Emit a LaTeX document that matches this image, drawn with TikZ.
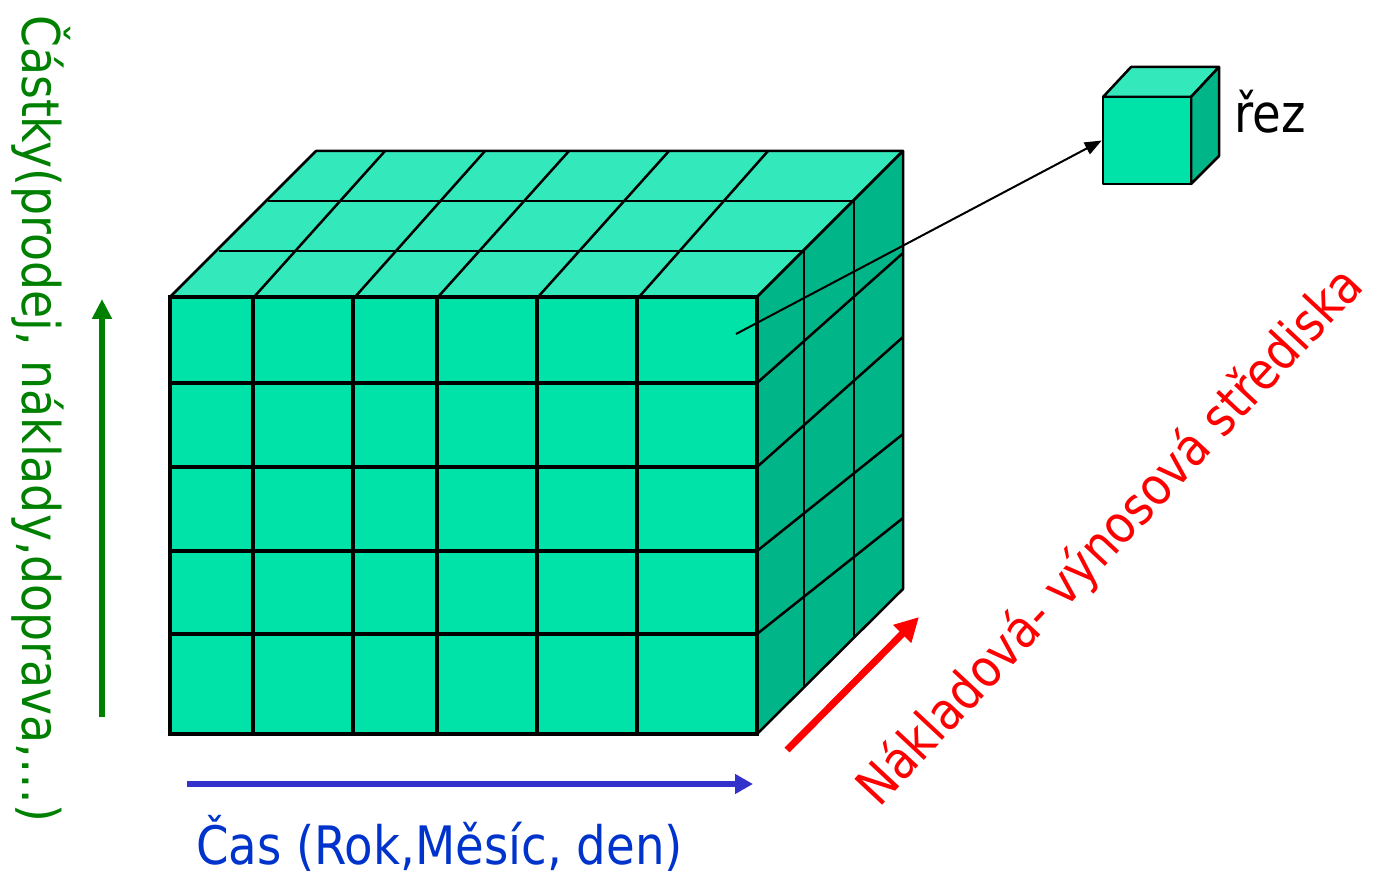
\documentclass[tikz,border=0pt]{standalone}
\usepackage{fontspec}
\setmainfont{DejaVu Sans}[FakeStretch=0.88]
\usetikzlibrary{arrows.meta}
\definecolor{frontc}{RGB}{0,227,168}
\definecolor{topc}{RGB}{51,233,187}
\definecolor{sidec}{RGB}{0,181,135}
\definecolor{axgreen}{RGB}{0,128,0}
\definecolor{axblue}{RGB}{51,51,204}
\definecolor{txtblue}{RGB}{0,51,204}
\definecolor{axred}{RGB}{255,0,0}
\begin{document}
\begin{tikzpicture}[x=1pt,y=-1pt,
  face/.style={draw=black,line width=2.5pt,line join=round},
  frontgrid/.style={black,line width=3.5pt},
  thingrid/.style={black,line width=2.5pt},
  lbl/.style={inner sep=0pt,font=\fontsize{53}{60}\selectfont},
  axis/.style={line width=6pt}]
\useasboundingbox (0,0) rectangle (1374,874);
% big cube faces
\fill[frontc] (170,297) rectangle (757,734);
\filldraw[face,fill=topc] (170,297) -- (316,151) -- (903,151) -- (757,297) -- cycle;
\filldraw[face,fill=sidec] (757,297) -- (903,151) -- (903,589) -- (757,734) -- cycle;
% top face grid
\draw[thingrid] (219,251) -- (804,251);
\draw[thingrid] (268,201) -- (854,201);
\foreach \a/\b in {254/385,355/485,438/569,538/669,639/768}
  \draw[thingrid] (\a,297) -- (\b,151);
% side face grid
\draw[thingrid] (804,251) -- (804,687);
\draw[thingrid] (854,201) -- (854,638);
\foreach \a/\b in {383/253,467/337,551/434,634/518}
  \draw[thingrid] (757,\a) -- (903,\b);
% front grid
\foreach \x in {253,353,437,537,637}
  \draw[frontgrid] (\x,297) -- (\x,734);
\foreach \y in {383,467,551,634}
  \draw[frontgrid] (170,\y) -- (757,\y);
\draw[frontgrid,line join=miter] (170,297) rectangle (757,734);
% slice cube
\filldraw[face,fill=topc] (1103,97) -- (1131,67) -- (1219,67) -- (1191,97) -- cycle;
\filldraw[face,fill=sidec] (1191,97) -- (1219,67) -- (1219,156) -- (1191,184) -- cycle;
\node[face,fill=frontc,minimum width=88pt,minimum height=87pt,inner sep=0pt] (slice) at (1147,140.5) {};
\node[lbl,anchor=base west] (reztext) at (1234,133) {řez};
% pointer
\coordinate (cell) at (736,334);
\draw[line width=2pt,-{Triangle[length=17pt,width=13pt]}] (cell) -- (slice.west);
% axes
\coordinate (bA) at (187,784); \coordinate (bB) at (753,784);
\draw[axis,axblue,-{Triangle[length=18pt,width=19pt]}] (bA) -- (bB);
\coordinate (gA) at (102,717); \coordinate (gB) at (102,299);
\draw[axis,axgreen,-{Triangle[length=20pt,width=19pt]}] (gA) -- (gB);
\coordinate (rA) at (787,750); \coordinate (rB) at (919,617);
\draw[axis,line width=7pt,axred,-{Triangle[length=24pt,width=24pt]}] (rA) -- (rB);
% labels
\node[lbl,anchor=base west,text=txtblue] (timetext) at (196,864) {Čas (Rok,Měsíc, den)};
\node[lbl,font=\fontsize{52}{60}\selectfont,anchor=base west,text=axgreen,rotate=-90] (amounttext) at (22,15) {Částky(prodej, náklady,doprava,…)};
\node[lbl,font=\fontsize{52}{60}\selectfont,anchor=base west,text=axred,rotate=47] (centertext) at (879,809) {Nákladová- výnosová střediska};
\end{tikzpicture}
\end{document}
